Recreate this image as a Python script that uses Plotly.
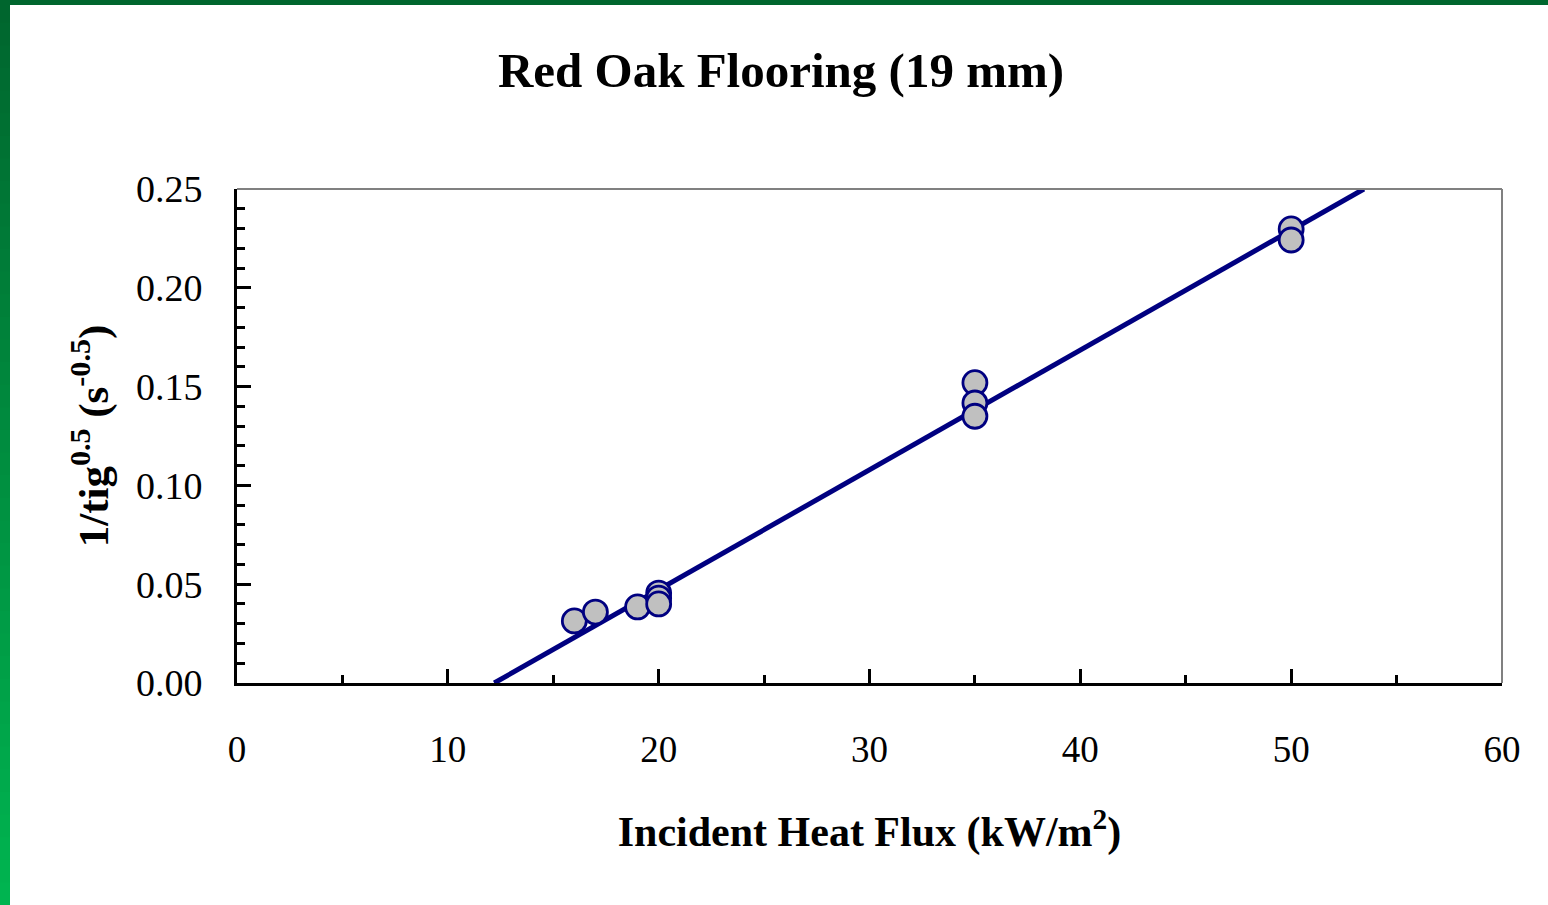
import plotly.graph_objects as go

# Data
heat_flux = [16, 17, 19, 20, 20, 20, 35, 35, 35, 50, 50]
inv_sqrt_tig = [0.0314, 0.0359, 0.0385, 0.0455, 0.0430, 0.0400, 0.1520, 0.1417, 0.1350, 0.2298, 0.2242]

fit_x = [12.2, 53.45]
fit_y = [0.0, 0.25]

x_ticks = [0, 10, 20, 30, 40, 50, 60]
y_ticks = [0.00, 0.05, 0.10, 0.15, 0.20, 0.25]

FONT = "Liberation Serif, Times New Roman, serif"

fig = go.Figure()

fig.add_trace(go.Scatter(
    x=fit_x, y=fit_y, mode="lines",
    line=dict(color="#000080", width=5),
    showlegend=False, cliponaxis=False,
))
fig.add_trace(go.Scatter(
    x=heat_flux, y=inv_sqrt_tig, mode="markers",
    marker=dict(size=24, color="#c0c0c0", line=dict(color="#000080", width=2.8)),
    showlegend=False, cliponaxis=False,
))

# green frame (gradient approximated with stacked, overlapping strips)
L, R, T, B = 237, 1502, 189, 683
W_PX, H_PX = R - L, B - T


def px_x(p):
    return (p - L) / W_PX


def px_y(p):
    return (B - p) / H_PX


shapes = []
n = 40
top_c = (0, 102, 46)
bot_c = (0, 180, 80)
for i in range(n):
    t = i / (n - 1)
    c = tuple(int(round(top_c[k] + (bot_c[k] - top_c[k]) * t)) for k in range(3))
    ya = i * 905 / n
    yb = (i + 1) * 905 / n + 3
    shapes.append(dict(
        type="rect", xref="paper", yref="paper",
        x0=px_x(-2), x1=px_x(10),
        y0=px_y(ya), y1=px_y(min(yb, 910)),
        fillcolor="rgb(%d,%d,%d)" % c, line=dict(width=0), layer="above",
    ))
shapes.append(dict(
    type="rect", xref="paper", yref="paper",
    x0=px_x(-2), x1=px_x(1550), y0=px_y(-2), y1=px_y(5),
    fillcolor="rgb(0,102,46)", line=dict(width=0), layer="above",
))
# gray top and right frame lines
shapes.append(dict(type="line", xref="paper", yref="paper", x0=0, x1=1, y0=1, y1=1,
                   line=dict(color="#808080", width=2)))
shapes.append(dict(type="line", xref="paper", yref="paper", x0=1, x1=1, y0=0, y1=1,
                   line=dict(color="#808080", width=2)))

fig.update_layout(
    width=1548, height=905,
    margin=dict(l=237, r=46, t=189, b=222, autoexpand=False),
    paper_bgcolor="white", plot_bgcolor="white",
    shapes=shapes,
    title=dict(text="<b>Red Oak Flooring (19 mm)</b>", x=781 / 1548, xref="container",
               xanchor="center", y=1 - 70 / 905, yanchor="middle",
               font=dict(family=FONT, size=49, color="black")),
    xaxis=dict(
        range=[0, 60], tickvals=x_ticks, ticktext=[str(v) for v in x_ticks],
        ticks="inside", ticklen=14, tickwidth=3, tickcolor="black",
        minor=dict(dtick=5, ticks="inside", ticklen=8, tickwidth=3, tickcolor="black"),
        showline=True, linecolor="black", linewidth=3, showgrid=False, zeroline=False,
        tickfont=dict(family=FONT, size=37, color="black"), ticklabelstandoff=32,
        title=dict(text="<b>Incident Heat Flux (kW/m<sup>2</sup>)</b>",
                   font=dict(family=FONT, size=42, color="black"), standoff=48),
    ),
    yaxis=dict(
        range=[0, 0.25], tickvals=y_ticks, ticktext=["%.2f" % v for v in y_ticks],
        ticks="inside", ticklen=14, tickwidth=3, tickcolor="black",
        minor=dict(dtick=0.01, ticks="inside", ticklen=8, tickwidth=3, tickcolor="black"),
        showline=True, linecolor="black", linewidth=3, showgrid=False, zeroline=False,
        tickfont=dict(family=FONT, size=38, color="black"), ticklabelstandoff=24,
        title=dict(text="<b>1/tig<sup>0.5</sup> (s<sup>-0.5</sup>)</b>",
                   font=dict(family=FONT, size=43, color="black"), standoff=14),
    ),
)

fig.write_html("out.html")
